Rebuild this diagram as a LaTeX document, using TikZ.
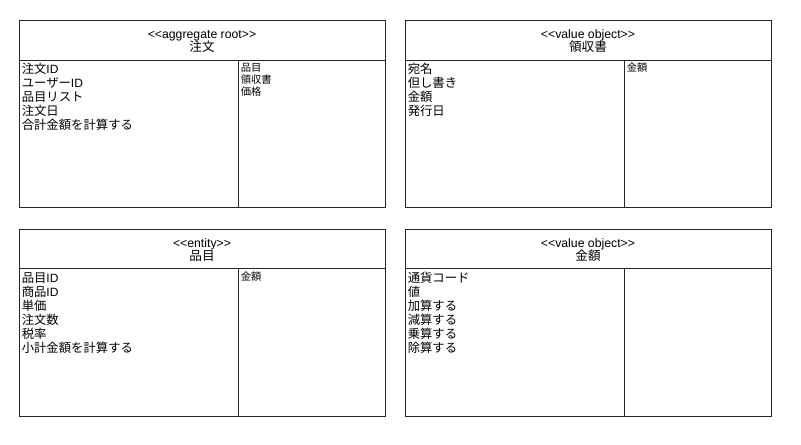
\documentclass[tikz,border=0pt]{standalone}
\usepackage{fontspec}
\setmainfont{Liberation Sans}[Ligatures=NoCommon]
\newfontfamily\cjk{Noto Sans CJK JP}[Scale=1.03]
\newcommand{\J}[1]{{\cjk #1}}
\newcommand{\st}[1]{{<}{<}#1{>}{>}}
\tikzset{
  umlline/.style={draw=black!85, line width=0.75pt},
  stereo/.style={anchor=base, inner sep=0pt, font=\fontsize{9.2}{10}\selectfont},
  attr/.style={anchor=base west, inner sep=0pt, font=\fontsize{9}{10}\selectfont},
  small/.style={anchor=base west, inner sep=0pt, font=\fontsize{7.5}{9}\selectfont},
}
\begin{document}
\begin{tikzpicture}[x=0.75pt, y=-0.75pt]
\useasboundingbox (0,0) rectangle (801,445);
\fill[white] (0,0) rectangle (801,445);

% ---------- Box 1: 注文 ----------
\draw[umlline] (19.5,20.5) rectangle (385.5,207.5);
\draw[umlline] (19.5,60.5) -- (385.5,60.5);
\draw[umlline] (238.5,60.5) -- (238.5,207.5);
\node[stereo] (s1) at (202,38.5) {\st{aggregate root}};
\node[stereo] (n1) at (202,52) {\J{注文}};
\foreach \t [count=\i from 0] in {\J{注文}ID, \J{ユーザー}ID, \J{品目リスト}, \J{注文日}, \J{合計金額を計算する}}
  \node[attr] (a1\i) at (21.5,73.5+14*\i) {\t};
\foreach \t [count=\i from 0] in {\J{品目}, \J{領収書}, \J{価格}}
  \node[small] (b1\i) at (240.5,72+12*\i) {\t};

% ---------- Box 2: 領収書 ----------
\draw[umlline] (405.5,20.5) rectangle (771.5,207.5);
\draw[umlline] (405.5,60.5) -- (771.5,60.5);
\draw[umlline] (624.5,60.5) -- (624.5,207.5);
\node[stereo] (s2) at (588,38.5) {\st{value object}};
\node[stereo] (n2) at (588,52) {\J{領収書}};
\foreach \t [count=\i from 0] in {\J{宛名}, \J{但し書き}, \J{金額}, \J{発行日}}
  \node[attr] (a2\i) at (407.5,73.5+14*\i) {\t};
\node[small] (b20) at (626.5,72) {\J{金額}};

% ---------- Box 3: 品目 ----------
\draw[umlline] (19.5,229.5) rectangle (385.5,416.5);
\draw[umlline] (19.5,268.5) -- (385.5,268.5);
\draw[umlline] (238.5,268.5) -- (238.5,416.5);
\node[stereo] (s3) at (202,247.5) {\st{entity}};
\node[stereo] (n3) at (202,261) {\J{品目}};
\foreach \t [count=\i from 0] in {\J{品目}ID, \J{商品}ID, \J{単価}, \J{注文数}, \J{税率}, \J{小計金額を計算する}}
  \node[attr] (a3\i) at (21.5,282.5+14*\i) {\t};
\node[small] (b30) at (240.5,281) {\J{金額}};

% ---------- Box 4: 金額 ----------
\draw[umlline] (405.5,229.5) rectangle (771.5,416.5);
\draw[umlline] (405.5,268.5) -- (771.5,268.5);
\draw[umlline] (624.5,268.5) -- (624.5,416.5);
\node[stereo] (s4) at (588,247.5) {\st{value object}};
\node[stereo] (n4) at (588,261) {\J{金額}};
\foreach \t [count=\i from 0] in {\J{通貨コード}, \J{値}, \J{加算する}, \J{減算する}, \J{乗算する}, \J{除算する}}
  \node[attr] (a4\i) at (407.5,282.5+14*\i) {\t};
\end{tikzpicture}
\end{document}
